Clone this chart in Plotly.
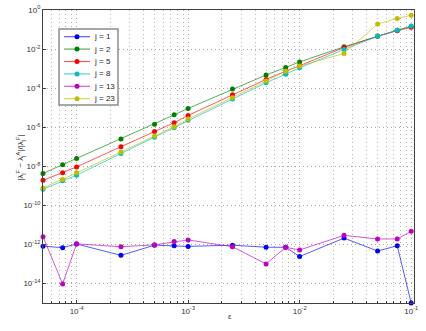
import plotly.graph_objects as go
import numpy as np

eps = [5e-5, 7.5e-5, 1e-4, 2.5e-4, 5e-4, 7.5e-4, 1e-3, 2.5e-3, 5e-3, 7.5e-3,
       1e-2, 2.5e-2, 5e-2, 7.5e-2, 1e-1]

err_j1 = [8.1e-13, 6.8e-13, 1.05e-12, 2.75e-13, 9.1e-13, 8.5e-13, 7.9e-13, 9.1e-13,
          7.2e-13, 7.1e-13, 2.4e-13, 2.1e-12, 4.6e-13, 8.5e-13, 1.0e-15]
err_j2 = [4.3e-9, 1.2e-8, 2.5e-8, 2.5e-7, 1.4e-6, 4.3e-6, 9.1e-6, 8.9e-5,
          4.7e-4, 1.15e-3, 2.2e-3, 1.3e-2, 4.7e-2, 9.3e-2, 1.4e-1]
err_j5 = [1.9e-9, 4.6e-9, 9.3e-9, 1.0e-7, 6.0e-7, 1.7e-6, 4.0e-6, 4.6e-5,
          2.8e-4, 7.4e-4, 1.4e-3, 1.2e-2, 4.5e-2, 8.7e-2, 1.3e-1]
err_j8 = [6.6e-10, 1.8e-9, 3.5e-9, 4.5e-8, 3.1e-7, 9.5e-7, 2.3e-6, 2.75e-5,
          1.9e-4, 5.2e-4, 1.1e-3, 9.5e-3, 4.5e-2, 9.3e-2, 1.5e-1]
err_j13 = [2.5e-12, 9.5e-15, 1.07e-12, 7.6e-13, 9.5e-13, 1.4e-12, 1.7e-12, 7.6e-13,
           1.0e-13, 7.1e-13, 5.2e-13, 2.9e-12, 1.9e-12, 1.9e-12, 4.7e-12]
err_j23 = [7.8e-10, 2.1e-9, 4.6e-9, 5.4e-8, 3.5e-7, 1.05e-6, 2.6e-6, 3.2e-5,
           2.3e-4, 7.4e-4, 1.35e-3, 6.0e-3, 1.9e-1, 3.7e-1, 5.4e-1]

series_names = ["j = 1", "j = 2", "j = 5", "j = 8", "j = 13", "j = 23"]
series_vals = [err_j1, err_j2, err_j5, err_j8, err_j13, err_j23]
marker_colors = ["#0000ff", "#008000", "#ff0000", "#00bfbf", "#bf00bf", "#bfbf00"]
line_colors = ["rgba(0,0,255,0.65)", "rgba(0,128,0,0.65)", "rgba(255,0,0,0.65)",
               "rgba(0,191,191,0.65)", "rgba(191,0,191,0.65)", "rgba(191,191,0,0.65)"]

y_tickvals = [1e0, 1e-2, 1e-4, 1e-6, 1e-8, 1e-10, 1e-12, 1e-14]
y_ticktext = ["10<sup>0</sup>", "10<sup>-2</sup>", "10<sup>-4</sup>", "10<sup>-6</sup>",
              "10<sup>-8</sup>", "10<sup>-10</sup>", "10<sup>-12</sup>", "10<sup>-14</sup>"]
x_tickvals = [1e-4, 1e-3, 1e-2, 1e-1]
x_ticktext = ["10<sup>-4</sup>", "10<sup>-3</sup>", "10<sup>-2</sup>", "10<sup>-1</sup>"]
x_minorvals = [m * 10.0 ** e for e in (-5, -4, -3, -2) for m in range(2, 10)]

W, H = 426, 331
ML, MR, MT, MB = 43, 12, 10, 28
PW, PH = W - ML - MR, H - MT - MB


def px_x(px):
    return (px - ML) / PW


def px_y(py):
    return (H - MB - py) / PH


FONT = "Liberation Sans, Arial, sans-serif"
TXT = "#333333"
GRID_DASH = "1px,3px"

fig = go.Figure()
for name, vals, mc, lc in zip(series_names, series_vals, marker_colors, line_colors):
    fig.add_trace(go.Scatter(
        x=eps, y=vals, name=name, mode="lines+markers",
        line=dict(color=lc, width=1),
        marker=dict(color=mc, size=5, symbol="circle"),
        cliponaxis=False, showlegend=False,
    ))

axis_common = dict(
    showline=True, linecolor="#404040", linewidth=1, mirror=True,
    ticks="inside", tickcolor="#404040", ticklen=3,
    showgrid=True, gridcolor="#a8a8a8", griddash=GRID_DASH, gridwidth=1,
    tickfont=dict(family=FONT, size=8, color=TXT),
    zeroline=False, automargin=False,
)

fig.update_xaxes(
    type="log", range=[np.log10(5e-5), np.log10(0.106)],
    tickmode="array", tickvals=x_tickvals, ticktext=x_ticktext,
    minor=dict(tickmode="array", tickvals=x_minorvals,
               ticks="inside", ticklen=2, tickcolor="#404040",
               showgrid=True, gridcolor="#b4b4b4", griddash=GRID_DASH, gridwidth=1),
    **axis_common,
)
fig.update_yaxes(
    type="log", range=[-15, 0],
    tickmode="array", tickvals=y_tickvals, ticktext=y_ticktext,
    **axis_common,
)

annotations = [
    dict(text="ε", xref="paper", yref="paper", x=px_x(230), y=px_y(323),
         showarrow=False, font=dict(family=FONT, size=8, color=TXT)),
    dict(text="|λ<sub>j</sub><sup>F</sup> − λ<sub>j</sub><sup>A</sup>|/|λ<sub>j</sub><sup>F</sup>|",
         xref="paper", yref="paper", x=px_x(12), y=px_y(158), textangle=-90,
         showarrow=False, font=dict(family=FONT, size=8, color=TXT)),
]

# legend box drawn as shapes and annotations
shapes = [dict(type="rect", xref="paper", yref="paper",
               x0=px_x(59), x1=px_x(118), y0=px_y(105), y1=px_y(29),
               line=dict(color="#8c8c8c", width=1.5), fillcolor="white", layer="above")]
leg_top, leg_step = 36.7, 12.4
for i, (name, mc, lc) in enumerate(zip(series_names, marker_colors, line_colors)):
    cy = leg_top + leg_step * i
    shapes.append(dict(type="line", xref="paper", yref="paper",
                       x0=px_x(64), x1=px_x(90), y0=px_y(cy), y1=px_y(cy),
                       line=dict(color=lc, width=1.2), layer="above"))
    shapes.append(dict(type="circle", xref="paper", yref="paper",
                       xsizemode="pixel", ysizemode="pixel",
                       xanchor=px_x(77), yanchor=px_y(cy),
                       x0=-2.5, x1=2.5, y0=-2.5, y1=2.5,
                       line=dict(color=mc, width=0), fillcolor=mc, layer="above"))
    annotations.append(dict(text=name, xref="paper", yref="paper",
                            x=px_x(92), y=px_y(cy), xanchor="left", yanchor="middle",
                            showarrow=False, font=dict(family=FONT, size=8, color="#222222")))

fig.update_layout(
    width=W, height=H,
    margin=dict(l=ML, r=MR, t=MT, b=MB),
    paper_bgcolor="white", plot_bgcolor="white",
    showlegend=False,
    shapes=shapes, annotations=annotations,
)

fig.write_html("out.html", config={"displayModeBar": False},
               post_script="document.body.style.margin='0';document.body.style.padding='0';")
